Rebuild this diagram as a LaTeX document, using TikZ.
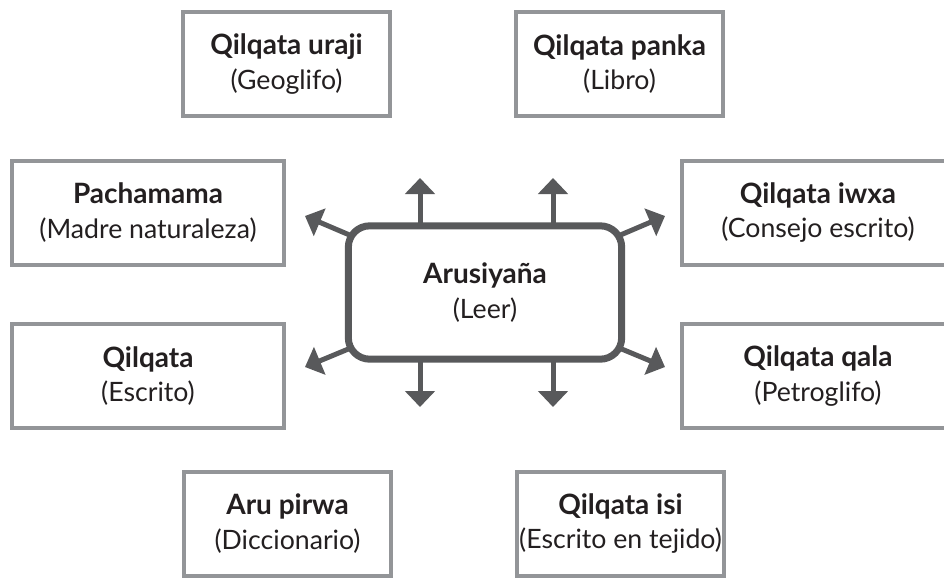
\documentclass[tikz,border=0pt]{standalone}
\usepackage{fontspec}
\setmainfont{Lato}
\usetikzlibrary{arrows.meta}
\definecolor{boxgray}{HTML}{939598}
\definecolor{hubgray}{HTML}{58595B}
\definecolor{inktext}{HTML}{231F20}
\newcommand\boxtitle[1]{{\fontsize{21}{26}\selectfont\bfseries #1}}
\tikzset{
  item/.style={draw=boxgray, line width=3pt, fill=white, text=inktext,
    minimum width=155pt, minimum height=78pt, inner sep=0pt,
    align=center, font=\fontsize{20}{26}\selectfont},
  wideitem/.style={item, minimum width=204pt},
  hub/.style={draw=hubgray, line width=5.25pt, rounded corners=16pt,
    fill=white, text=inktext, minimum width=205pt, minimum height=100pt,
    inner sep=0pt, align=center, font=\fontsize{20}{26}\selectfont},
  arr/.style={draw=hubgray, line width=3.75pt, shorten <=-4.5pt,
    -{Triangle[length=12pt,width=22pt]}}
}
\begin{document}
\begin{tikzpicture}[x=0.75pt,y=-0.75pt]
  \useasboundingbox (0,0) rectangle (944,579);
  % centre
  \node[hub] (leer) at (485,292.5) {\boxtitle{Arusiyaña}\\(Leer)};
  % surrounding boxes
  \node[item] (uraji) at (286.5,64) {\boxtitle{Qilqata uraji}\\(Geoglifo)};
  \node[item] (panka) at (619.5,64) {\boxtitle{Qilqata panka}\\(Libro)};
  \node[wideitem] (pacha) at (148,212.5) {\boxtitle{Pachamama}\\(Madre naturaleza)};
  \node[wideitem] (iwxa) at (818,212.5) {\boxtitle{Qilqata iwxa}\\(Consejo escrito)};
  \node[wideitem] (qilqata) at (148,376) {\boxtitle{Qilqata}\\(Escrito)};
  \node[wideitem] (qala) at (818,376) {\boxtitle{Qilqata qala}\\(Petroglifo)};
  \node[item] (pirwa) at (287.5,523.5) {\boxtitle{Aru pirwa}\\(Diccionario)};
  \node[item] (isi) at (620.5,523.5) {\boxtitle{Qilqata isi}\\(Escrito en tejido)};
  % arrow tips
  \coordinate (upl) at (420,178);
  \coordinate (upr) at (553,178);
  \coordinate (dnl) at (420,407);
  \coordinate (dnr) at (553,407);
  \coordinate (ne) at (665,216);
  \coordinate (se) at (665,367);
  \coordinate (nw) at (305,216);
  \coordinate (sw) at (305,367);
  % arrows
  \draw[arr] (leer.north -| upl) -- (upl);
  \draw[arr] (leer.north -| upr) -- (upr);
  \draw[arr] (leer.south -| dnl) -- (dnl);
  \draw[arr] (leer.south -| dnr) -- (dnr);
  \draw[arr] (leer) -- (ne);
  \draw[arr] (leer) -- (se);
  \draw[arr] (leer) -- (nw);
  \draw[arr] (leer) -- (sw);
\end{tikzpicture}
\end{document}
